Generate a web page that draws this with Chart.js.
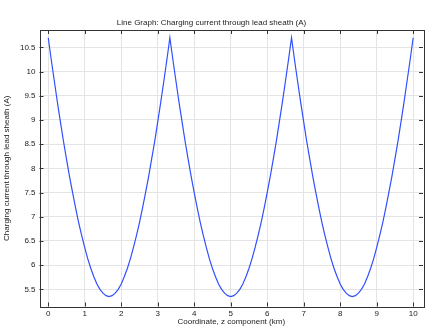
<!DOCTYPE html>
<html>
<head>
<meta charset="utf-8">
<script src="https://cdn.jsdelivr.net/npm/chart.js@4.4.1/dist/chart.umd.min.js"></script>
<style>
  html, body { margin: 0; padding: 0; background: #fff; }
  #wrap { width: 426px; height: 327px; }
</style>
</head>
<body>
<div id="wrap"><canvas id="lineChart"></canvas></div>
<script>
// Data
const zKm = [
    0, 0.083, 0.167, 0.25, 0.333, 0.417, 0.5, 0.583, 0.667, 0.75, 0.833, 0.917,
    1, 1.083, 1.167, 1.25, 1.333, 1.417, 1.5, 1.583, 1.667, 1.75, 1.833, 1.917,
    2, 2.083, 2.167, 2.25, 2.333, 2.417, 2.5, 2.583, 2.667, 2.75, 2.833, 2.917,
    3, 3.083, 3.167, 3.25, 3.333, 3.417, 3.5, 3.583, 3.667, 3.75, 3.833, 3.917,
    4, 4.083, 4.167, 4.25, 4.333, 4.417, 4.5, 4.583, 4.667, 4.75, 4.833, 4.917,
    5, 5.083, 5.167, 5.25, 5.333, 5.417, 5.5, 5.583, 5.667, 5.75, 5.833, 5.917,
    6, 6.083, 6.167, 6.25, 6.333, 6.417, 6.5, 6.583, 6.667, 6.75, 6.833, 6.917,
    7, 7.083, 7.167, 7.25, 7.333, 7.417, 7.5, 7.583, 7.667, 7.75, 7.833, 7.917,
    8, 8.083, 8.167, 8.25, 8.333, 8.417, 8.5, 8.583, 8.667, 8.75, 8.833, 8.917,
    9, 9.083, 9.167, 9.25, 9.333, 9.417, 9.5, 9.583, 9.667, 9.75, 9.833, 9.917,
    10
];
const sheathCurrent = [
    10.70, 10.24, 9.80, 9.37, 8.96, 8.56, 8.19, 7.83, 7.50, 7.18, 6.88, 6.61,
    6.36, 6.13, 5.93, 5.76, 5.61, 5.50, 5.42, 5.37, 5.35, 5.37, 5.42, 5.50,
    5.61, 5.76, 5.93, 6.13, 6.36, 6.61, 6.88, 7.18, 7.50, 7.83, 8.19, 8.56,
    8.96, 9.37, 9.80, 10.24, 10.70, 10.24, 9.80, 9.37, 8.96, 8.56, 8.19, 7.83,
    7.50, 7.18, 6.88, 6.61, 6.36, 6.13, 5.93, 5.76, 5.61, 5.50, 5.42, 5.37,
    5.35, 5.37, 5.42, 5.50, 5.61, 5.76, 5.93, 6.13, 6.36, 6.61, 6.88, 7.18,
    7.50, 7.83, 8.19, 8.56, 8.96, 9.37, 9.80, 10.24, 10.70, 10.24, 9.80, 9.37,
    8.96, 8.56, 8.19, 7.83, 7.50, 7.18, 6.88, 6.61, 6.36, 6.13, 5.93, 5.76,
    5.61, 5.50, 5.42, 5.37, 5.35, 5.37, 5.42, 5.50, 5.61, 5.76, 5.93, 6.13,
    6.36, 6.61, 6.88, 7.18, 7.50, 7.83, 8.19, 8.56, 8.96, 9.37, 9.80, 10.24,
    10.70
];
const xTicks = [0, 1, 2, 3, 4, 5, 6, 7, 8, 9, 10];
const yTicks = [5.5, 6, 6.5, 7, 7.5, 8, 8.5, 9, 9.5, 10, 10.5];

const FONT = "'Liberation Sans', Arial, sans-serif";
const TEXT_COLOR = '#222';

// Draws the box around the plot and inward ticks on all four sides
const framePlugin = {
    id: 'frame',
    afterDatasetsDraw(chart) {
        const { ctx, chartArea: a, scales } = chart;
        ctx.save();
        ctx.strokeStyle = '#333';
        ctx.lineWidth = 1;
        ctx.beginPath();
        xTicks.forEach(v => {
            const px = Math.round(scales.x.getPixelForValue(v)) + 0.5;
            ctx.moveTo(px, a.bottom); ctx.lineTo(px, a.bottom - 4);
            ctx.moveTo(px, a.top); ctx.lineTo(px, a.top + 4);
        });
        yTicks.forEach(v => {
            const py = Math.round(scales.y.getPixelForValue(v)) + 0.5;
            ctx.moveTo(a.left, py); ctx.lineTo(a.left + 4, py);
            ctx.moveTo(a.right, py); ctx.lineTo(a.right - 4, py);
        });
        ctx.stroke();
        ctx.strokeRect(Math.round(a.left) + 0.5, Math.round(a.top) + 0.5,
            Math.round(a.right - a.left), Math.round(a.bottom - a.top));
        ctx.restore();
    }
};

const ctx = document.getElementById('lineChart').getContext('2d');
new Chart(ctx, {
    type: 'line',
    data: {
        datasets: [{
            data: zKm.map((z, i) => ({ x: z, y: sheathCurrent[i] })),
            borderColor: '#3050ff',
            borderWidth: 1.2,
            pointRadius: 0,
            tension: 0,
            fill: false
        }]
    },
    options: {
        responsive: true,
        maintainAspectRatio: false,
        animation: false,
        layout: { padding: { top: 0, right: 3, bottom: 0, left: 0 } },
        plugins: {
            legend: { display: false },
            tooltip: { enabled: false },
            title: {
                display: true,
                text: 'Line Graph: Charging current through lead sheath (A)',
                color: TEXT_COLOR,
                font: { family: FONT, size: 8, weight: 'normal' },
                padding: { top: 18, bottom: 2.4 }
            }
        },
        scales: {
            x: {
                type: 'linear',
                min: -0.24,
                max: 10.27,
                afterBuildTicks: s => { s.ticks = xTicks.map(v => ({ value: v })); },
                afterFit: s => { s.height = 20.5; },
                grid: { color: '#e4e4e4', drawTicks: false },
                border: { display: false },
                ticks: {
                    color: TEXT_COLOR,
                    padding: 2.5,
                    maxRotation: 0,
                    font: { family: FONT, size: 8 },
                    callback: v => String(v)
                },
                title: {
                    display: true,
                    text: 'Coordinate, z component (km)',
                    color: TEXT_COLOR,
                    font: { family: FONT, size: 8 },
                    padding: { top: 0, bottom: 0.5 }
                }
            },
            y: {
                min: 5.145,
                max: 10.86,
                afterBuildTicks: s => { s.ticks = yTicks.map(v => ({ value: v })); },
                afterFit: s => { s.width = 39.5; },
                grid: { color: '#e4e4e4', drawTicks: false },
                border: { display: false },
                ticks: {
                    color: TEXT_COLOR,
                    padding: 4,
                    font: { family: FONT, size: 8 },
                    callback: v => String(v)
                },
                title: {
                    display: true,
                    text: 'Charging current through lead sheath (A)',
                    color: TEXT_COLOR,
                    font: { family: FONT, size: 8 },
                    padding: { top: 2, bottom: 0 }
                }
            }
        }
    },
    plugins: [framePlugin]
});
</script>
</body>
</html>
